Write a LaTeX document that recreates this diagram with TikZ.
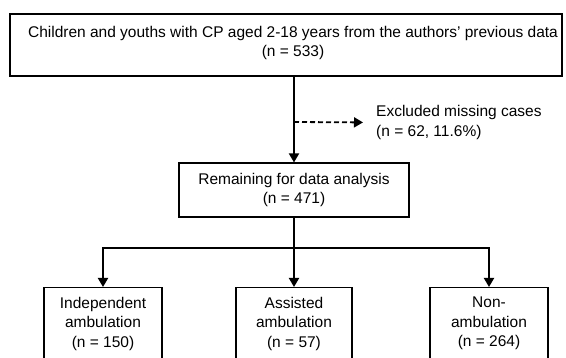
\documentclass[tikz,border=0pt]{standalone}
\usepackage{fontspec}
\setmainfont{Liberation Sans}
\usetikzlibrary{arrows.meta}

\begin{document}
\begin{tikzpicture}[x=1pt, y=-1pt, >={Triangle[length=9pt, width=10pt]},
  every node/.style={font=\fontsize{15.5}{19.5}\selectfont},
  box/.style={draw=black, line width=1.1pt, align=center, inner sep=0pt},
  flow/.style={->, line width=1.8pt}]
  \useasboundingbox (0,0) rectangle (566,358);
  \clip (0,0) rectangle (566,358);
  % Nodes
  \node[box, minimum width=552pt, minimum height=62pt] (source) at (286,45) {};
  \node[align=center, inner sep=0pt] (sourcetext) at (293,43) {Children and youths with CP aged 2-18 years from the authors’ previous data\\(n = 533)};
  \coordinate (split) at (294,122);
  \node[anchor=west, align=left, inner sep=0pt] (excl) at (376,122.5) {Excluded missing cases\\(n = 62, 11.6\%)};
  \node[box, minimum width=230pt, minimum height=54pt] (remain) at (294,190) {Remaining for data analysis\\(n = 471)};
  \coordinate (fork) at (294,248);
  \node[box, minimum width=118pt, minimum height=72pt, anchor=north] (indep) at (103,287) {Independent\\ambulation\\(n = 150)};
  \node[box, minimum width=116pt, minimum height=72pt, anchor=north] (assist) at (294,287) {Assisted\\ambulation\\(n = 57)};
  \node[box, minimum width=118pt, minimum height=72pt, anchor=north] (nonamb) at (489,287) {Non-\\ambulation\\(n = 264)};

  % Arrows
  \draw[flow] (split |- source.south) -- (remain);
  \draw[flow, dash pattern=on 5pt off 3pt, shorten >=13pt] (split) -- (excl.west);
  \draw[line width=1.8pt] (remain) -- (fork);
  \draw[flow] (fork) -- (assist);
  \draw[flow] (fork) -| (indep);
  \draw[flow] (fork) -| (nonamb);
\end{tikzpicture}
\end{document}
